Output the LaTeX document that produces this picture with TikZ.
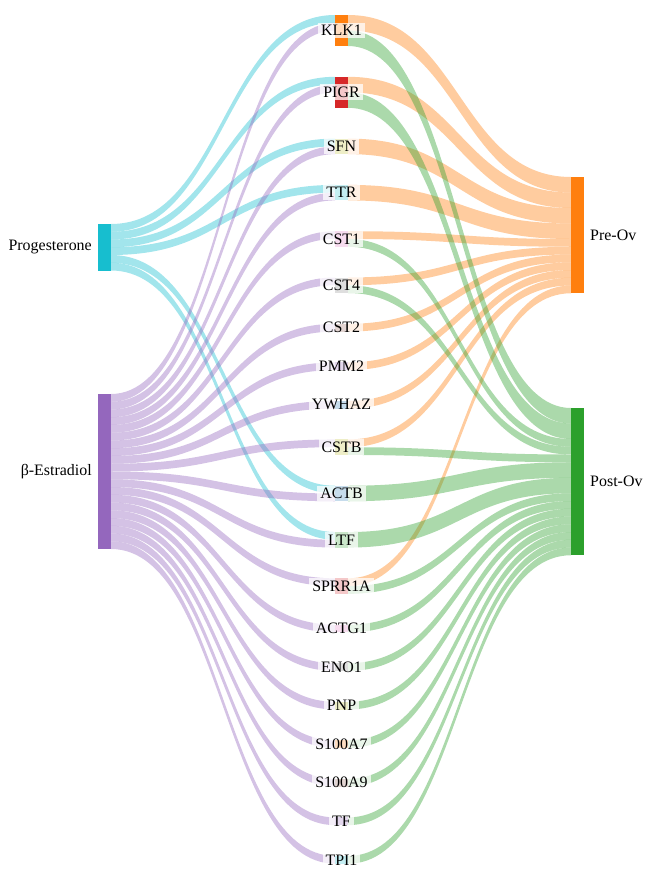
\documentclass[tikz,border=0pt]{standalone}
\usepackage{fontspec}
\setmainfont{Liberation Serif}
\usetikzlibrary{calc,backgrounds}

\definecolor{tblue}{HTML}{1F77B4}
\definecolor{torange}{HTML}{FF7F0E}
\definecolor{tgreen}{HTML}{2CA02C}
\definecolor{tred}{HTML}{D62728}
\definecolor{tpurple}{HTML}{9467BD}
\definecolor{tbrown}{HTML}{8C564B}
\definecolor{tpink}{HTML}{E377C2}
\definecolor{tgray}{HTML}{7F7F7F}
\definecolor{tolive}{HTML}{BCBD22}
\definecolor{tcyan}{HTML}{17BECF}

\newcommand\pxl{0.03cm}
\newcommand\labelfont{\fontsize{13.6}{16}\selectfont}

\tikzset{
  bar/.style={rectangle, inner sep=0pt, outer sep=0pt, minimum width=13*\pxl, anchor=north west},
  genelabel/.style={fill=white, fill opacity=0.75, text opacity=1, inner xsep=3*\pxl, inner ysep=2.5*\pxl, font=\labelfont},
  sidelabel/.style={font=\labelfont, inner sep=0pt},
  flowband/.style={fill opacity=0.4},
}

% band between two bars: colour, source, offset at source, target, offset at target, width
\newcommand\flow[6]{%
  \fill[flowband, #1] let \p1=($(#2.north east)+(0,#3)$), \p2=($(#4.north west)+(0,#5)$),
      \p3=($(#2.north east)+(0,#3+#6)$), \p4=($(#4.north west)+(0,#5+#6)$) in
    (\p1) .. controls ({0.5*(\x1+\x2)},\y1) and ({0.5*(\x1+\x2)},\y2) .. (\p2)
    -- (\p4) .. controls ({0.5*(\x3+\x4)},\y4) and ({0.5*(\x3+\x4)},\y3) .. (\p3) -- cycle;}

\begin{document}
\begin{tikzpicture}[x=\pxl, y=-\pxl]
  \useasboundingbox (0,0) rectangle (644,870);

  % treatments
  \node[bar, fill=tcyan, minimum height=46.5*\pxl] (prog) at (98,224) {};
  \node[bar, fill=tpurple, minimum height=155*\pxl] (estr) at (98,394) {};

  % phases
  \node[bar, fill=torange, minimum height=116.25*\pxl] (preov) at (571,177) {};
  \node[bar, fill=tgreen, minimum height=147.25*\pxl] (postov) at (571,408) {};

  % proteins
  \node[bar, fill=torange, minimum height=31*\pxl] (klk1) at (335,15) {};
  \node[bar, fill=tred, minimum height=31*\pxl] (pigr) at (335,76.8) {};
  \node[bar, fill=tolive, minimum height=15.5*\pxl] (sfn) at (335,138.6) {};
  \node[bar, fill=tcyan, minimum height=15.5*\pxl] (ttr) at (335,184.9) {};
  \node[bar, fill=tpink, minimum height=15.5*\pxl] (cst1) at (335,231.2) {};
  \node[bar, fill=tgray, minimum height=15.5*\pxl] (cst4) at (335,277.5) {};
  \node[bar, fill=tbrown, minimum height=7.75*\pxl] (cst2) at (335,323.8) {};
  \node[bar, fill=tpurple, minimum height=7.75*\pxl] (pmm2) at (335,362.35) {};
  \node[bar, fill=tblue, minimum height=7.75*\pxl] (ywhaz) at (335,400.9) {};
  \node[bar, fill=tolive, minimum height=15.5*\pxl] (cstb) at (335,439.45) {};
  \node[bar, fill=tblue, minimum height=15.5*\pxl] (actb) at (335,485.75) {};
  \node[bar, fill=tgreen, minimum height=15.5*\pxl] (ltf) at (335,532.05) {};
  \node[bar, fill=tred, minimum height=15.5*\pxl] (sprr1a) at (335,578.35) {};
  \node[bar, fill=tpink, minimum height=7.75*\pxl] (actg1) at (335,624.65) {};
  \node[bar, fill=tgray, minimum height=7.75*\pxl] (eno1) at (335,663.2) {};
  \node[bar, fill=tolive, minimum height=7.75*\pxl] (pnp) at (335,701.75) {};
  \node[bar, fill=torange, minimum height=7.75*\pxl] (s100a7) at (335,740.3) {};
  \node[bar, fill=tbrown, minimum height=7.75*\pxl] (s100a9) at (335,778.85) {};
  \node[bar, fill=tpurple, minimum height=7.75*\pxl] (tf) at (335,817.4) {};
  \node[bar, fill=tcyan, minimum height=7.75*\pxl] (tpi1) at (335,855.95) {};

  % labels
  \node[sidelabel, anchor=east] (progt) at ($(prog.west)+(-6,0)$) {Progesterone};
  \node[sidelabel, anchor=east] (estrt) at ($(estr.west)+(-6,0)$) {β-Estradiol};
  \node[sidelabel, anchor=west] (preovt) at ($(preov.east)+(6,0)$) {Pre-Ov};
  \node[sidelabel, anchor=west] (postovt) at ($(postov.east)+(6,0)$) {Post-Ov};

  \node[genelabel] (klk1t) at (klk1) {KLK1};
  \node[genelabel] (pigrt) at (pigr) {PIGR};
  \node[genelabel] (sfnt) at (sfn) {SFN};
  \node[genelabel] (ttrt) at (ttr) {TTR};
  \node[genelabel] (cst1t) at (cst1) {CST1};
  \node[genelabel] (cst4t) at (cst4) {CST4};
  \node[genelabel] (cst2t) at (cst2) {CST2};
  \node[genelabel] (pmm2t) at (pmm2) {PMM2};
  \node[genelabel] (ywhazt) at (ywhaz) {YWHAZ};
  \node[genelabel] (cstbt) at (cstb) {CSTB};
  \node[genelabel] (actbt) at (actb) {ACTB};
  \node[genelabel] (ltft) at (ltf) {LTF};
  \node[genelabel] (sprr1at) at (sprr1a) {SPRR1A};
  \node[genelabel] (actg1t) at (actg1) {ACTG1};
  \node[genelabel] (eno1t) at (eno1) {ENO1};
  \node[genelabel] (pnpt) at (pnp) {PNP};
  \node[genelabel] (s100a7t) at (s100a7) {S100A7};
  \node[genelabel] (s100a9t) at (s100a9) {S100A9};
  \node[genelabel] (tft) at (tf) {TF};
  \node[genelabel] (tpi1t) at (tpi1) {TPI1};

  \begin{pgfonlayer}{background}
    % Progesterone
    \flow{tcyan}{prog}{0}{klk1}{0}{7.75}
    \flow{tcyan}{prog}{7.75}{pigr}{0}{7.75}
    \flow{tcyan}{prog}{15.5}{sfn}{0}{7.75}
    \flow{tcyan}{prog}{23.25}{ttr}{0}{7.75}
    \flow{tcyan}{prog}{31}{actb}{0}{7.75}
    \flow{tcyan}{prog}{38.75}{ltf}{0}{7.75}

    % beta-Estradiol
    \flow{tpurple}{estr}{0}{klk1}{7.75}{7.75}
    \flow{tpurple}{estr}{7.75}{pigr}{7.75}{7.75}
    \flow{tpurple}{estr}{15.5}{sfn}{7.75}{7.75}
    \flow{tpurple}{estr}{23.25}{ttr}{7.75}{7.75}
    \flow{tpurple}{estr}{31}{cst1}{0}{7.75}
    \flow{tpurple}{estr}{38.75}{cst4}{0}{7.75}
    \flow{tpurple}{estr}{46.5}{cst2}{0}{7.75}
    \flow{tpurple}{estr}{54.25}{pmm2}{0}{7.75}
    \flow{tpurple}{estr}{62}{ywhaz}{0}{7.75}
    \flow{tpurple}{estr}{69.75}{cstb}{0}{7.75}
    \flow{tpurple}{estr}{77.5}{actb}{7.75}{7.75}
    \flow{tpurple}{estr}{85.25}{ltf}{7.75}{7.75}
    \flow{tpurple}{estr}{93}{sprr1a}{0}{7.75}
    \flow{tpurple}{estr}{100.75}{actg1}{0}{7.75}
    \flow{tpurple}{estr}{108.5}{eno1}{0}{7.75}
    \flow{tpurple}{estr}{116.25}{pnp}{0}{7.75}
    \flow{tpurple}{estr}{124}{s100a7}{0}{7.75}
    \flow{tpurple}{estr}{131.75}{s100a9}{0}{7.75}
    \flow{tpurple}{estr}{139.5}{tf}{0}{7.75}
    \flow{tpurple}{estr}{147.25}{tpi1}{0}{7.75}

    % Pre-Ov
    \flow{torange}{klk1}{0}{preov}{0}{15.5}
    \flow{torange}{pigr}{0}{preov}{15.5}{15.5}
    \flow{torange}{sfn}{0}{preov}{31}{15.5}
    \flow{torange}{ttr}{0}{preov}{46.5}{15.5}
    \flow{torange}{cst1}{0}{preov}{62}{7.75}
    \flow{torange}{cst4}{0}{preov}{69.75}{7.75}
    \flow{torange}{cst2}{0}{preov}{77.5}{7.75}
    \flow{torange}{pmm2}{0}{preov}{85.25}{7.75}
    \flow{torange}{ywhaz}{0}{preov}{93}{7.75}
    \flow{torange}{cstb}{0}{preov}{100.75}{7.75}
    \flow{torange}{sprr1a}{0}{preov}{108.5}{7.75}

    % Post-Ov
    \flow{tgreen}{klk1}{15.5}{postov}{0}{15.5}
    \flow{tgreen}{pigr}{15.5}{postov}{15.5}{15.5}
    \flow{tgreen}{cst1}{7.75}{postov}{31}{7.75}
    \flow{tgreen}{cst4}{7.75}{postov}{38.75}{7.75}
    \flow{tgreen}{cstb}{7.75}{postov}{46.5}{7.75}
    \flow{tgreen}{actb}{0}{postov}{54.25}{15.5}
    \flow{tgreen}{ltf}{0}{postov}{69.75}{15.5}
    \flow{tgreen}{sprr1a}{7.75}{postov}{85.25}{7.75}
    \flow{tgreen}{actg1}{0}{postov}{93}{7.75}
    \flow{tgreen}{eno1}{0}{postov}{100.75}{7.75}
    \flow{tgreen}{pnp}{0}{postov}{108.5}{7.75}
    \flow{tgreen}{s100a7}{0}{postov}{116.25}{7.75}
    \flow{tgreen}{s100a9}{0}{postov}{124}{7.75}
    \flow{tgreen}{tf}{0}{postov}{131.75}{7.75}
    \flow{tgreen}{tpi1}{0}{postov}{139.5}{7.75}
  \end{pgfonlayer}
\end{tikzpicture}
\end{document}
